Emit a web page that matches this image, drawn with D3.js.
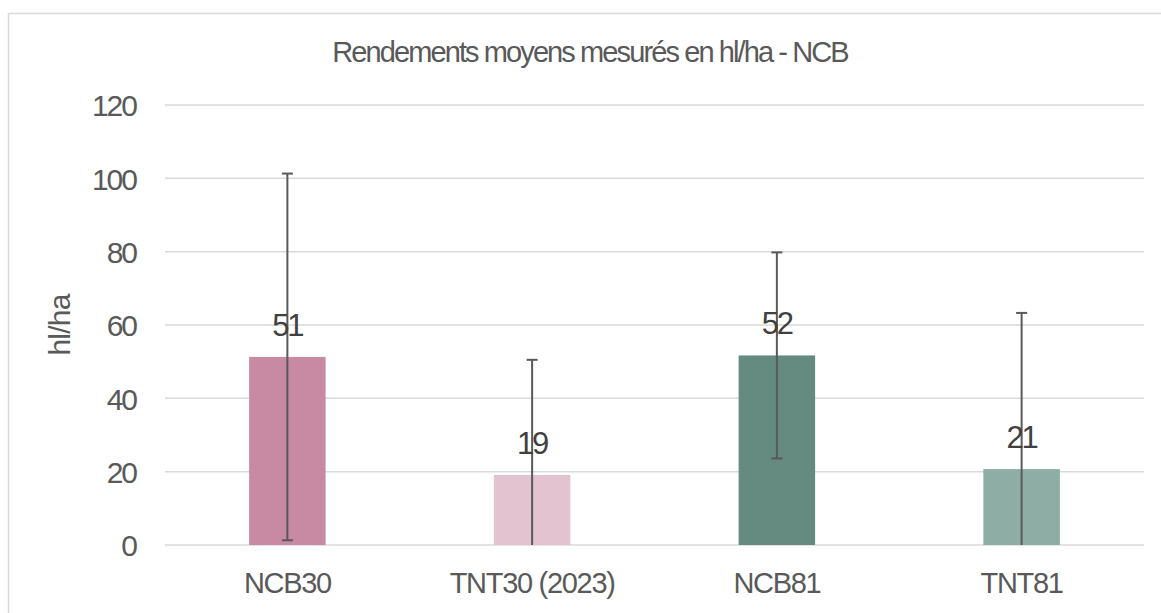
<!DOCTYPE html>
<html>
<head>
<meta charset="utf-8">
<script src="https://cdn.jsdelivr.net/npm/d3@7"></script>
<style>
    html, body { margin: 0; padding: 0; background: #fff; }
    svg { display: block; font-family: "Liberation Sans", Arial, sans-serif; }
</style>
</head>
<body>
<svg id="chart" width="1161" height="613"></svg>
<script>
// Rendements moyens - bar chart with error bars
const categories = ['NCB30', 'TNT30 (2023)', 'NCB81', 'TNT81'];
const values = [51.3, 19.1, 51.7, 20.7];
const errors = [50.0, 31.4, 28.1, 42.6];
const barColors = ['#C88AA2', '#E2C3CF', '#658A80', '#8DADA5'];
const yTicks = [0, 20, 40, 60, 80, 100, 120];
const titleText = 'Rendements moyens mesurés en hl/ha - NCB';
const yTitle = 'hl/ha';

(function() {
    'use strict';

    const svg = d3.select('#chart');
    const margin = { top: 105, right: 17, bottom: 68, left: 165 };
    const width = 1161 - margin.left - margin.right;
    const height = 613 - margin.top - margin.bottom;

    // Chart area border (extends past the right/bottom edge)
    svg.append('rect')
        .attr('x', 8.5)
        .attr('y', 13.5)
        .attr('width', 1165)
        .attr('height', 620)
        .attr('fill', 'none')
        .attr('stroke', '#D9D9D9')
        .attr('stroke-width', 1.5);

    const g = svg.append('g')
        .attr('transform', `translate(${margin.left},${margin.top})`);

    const x = d3.scaleBand()
        .domain(categories)
        .range([0, width])
        .paddingInner(0.6875)
        .paddingOuter(0.34375);

    const y = d3.scaleLinear()
        .domain([0, 120])
        .range([height, 0]);

    // Gridlines
    g.append('g')
        .selectAll('line')
        .data(yTicks)
        .join('line')
        .attr('x1', 0)
        .attr('x2', width)
        .attr('y1', d => y(d))
        .attr('y2', d => y(d))
        .attr('stroke', '#D9D9D9')
        .attr('stroke-width', 1.5);

    // Y axis labels
    const yAxis = g.append('g')
        .attr('transform', 'translate(-29,0)')
        .call(d3.axisLeft(y).tickValues(yTicks).tickSize(0).tickPadding(0));
    yAxis.select('.domain').remove();
    yAxis.selectAll('text')
        .attr('fill', '#595959')
        .style('font-size', '30px')
        .style('letter-spacing', '-2px')
        .attr('dy', '0.36em');

    // X axis labels
    const xAxis = g.append('g')
        .attr('transform', `translate(0,${height})`)
        .call(d3.axisBottom(x).tickSize(0).tickPadding(0));
    xAxis.select('.domain').remove();
    xAxis.selectAll('text')
        .attr('fill', '#595959')
        .attr('y', 48)
        .attr('dy', 0)
        .style('font-size', '29px')
        .style('letter-spacing', '-1.3px');

    const data = categories.map((c, i) => ({
        cat: c, value: values[i], err: errors[i], color: barColors[i]
    }));

    // Bars
    g.append('g')
        .selectAll('rect')
        .data(data)
        .join('rect')
        .attr('x', d => x(d.cat))
        .attr('y', d => y(d.value))
        .attr('width', x.bandwidth())
        .attr('height', d => y(0) - y(d.value))
        .attr('fill', d => d.color);

    // Error bars (clipped at 0, no cap when clipped)
    const eb = g.append('g')
        .selectAll('g')
        .data(data)
        .join('g')
        .attr('transform', d => `translate(${x(d.cat) + x.bandwidth() / 2},0)`);

    eb.append('line')
        .attr('y1', d => y(d.value + d.err))
        .attr('y2', d => y(Math.max(0, d.value - d.err)))
        .attr('stroke', '#595959')
        .attr('stroke-width', 2);

    eb.append('line')
        .attr('x1', -5.5)
        .attr('x2', 5.5)
        .attr('y1', d => y(d.value + d.err))
        .attr('y2', d => y(d.value + d.err))
        .attr('stroke', '#595959')
        .attr('stroke-width', 2);

    eb.filter(d => d.value - d.err >= 0)
        .append('line')
        .attr('x1', -5.5)
        .attr('x2', 5.5)
        .attr('y1', d => y(d.value - d.err))
        .attr('y2', d => y(d.value - d.err))
        .attr('stroke', '#595959')
        .attr('stroke-width', 2);

    // Data labels
    g.append('g')
        .selectAll('text')
        .data(data)
        .join('text')
        .attr('x', d => x(d.cat) + x.bandwidth() / 2)
        .attr('y', d => y(d.value) - 21)
        .attr('text-anchor', 'middle')
        .attr('fill', '#404040')
        .style('font-size', '31px')
        .style('letter-spacing', '-2px')
        .text(d => Math.round(d.value));

    // Title
    svg.append('text')
        .attr('x', 590)
        .attr('y', 62)
        .attr('text-anchor', 'middle')
        .attr('fill', '#595959')
        .style('font-size', '29px')
        .style('letter-spacing', '-1.9px')
        .text(titleText);

    // Y axis title
    svg.append('text')
        .attr('transform', 'translate(70,325) rotate(-90)')
        .attr('text-anchor', 'middle')
        .attr('fill', '#595959')
        .style('font-size', '30px')
        .style('letter-spacing', '-0.8px')
        .text(yTitle);
})();
</script>
</body>
</html>
